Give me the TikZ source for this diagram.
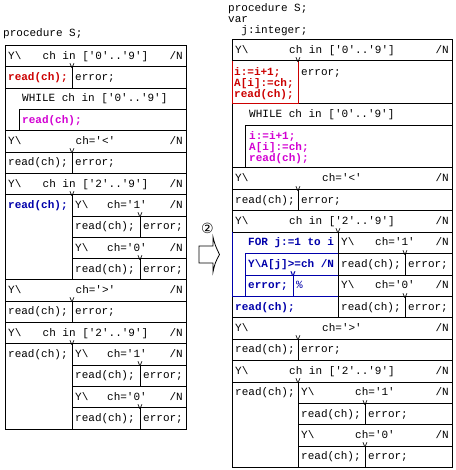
\documentclass[tikz,border=0pt]{standalone}
\usepackage{fontspec}
\setmonofont{Liberation Mono}
\newfontfamily\circfont{DejaVu Sans}
\usepackage{tikz}
\usetikzlibrary{calc}

\definecolor{redcode}{RGB}{204,0,0}
\definecolor{magcode}{RGB}{210,0,210}
\definecolor{bluecode}{RGB}{0,0,170}
\newcommand{\codefont}{\fontsize{11}{11.3}\selectfont\ttfamily}

\tikzset{
  txt/.style={font=\codefont, anchor=base west, inner sep=0pt},
  cnd/.style={font=\codefont, anchor=base, inner sep=0pt},
  nlab/.style={font=\codefont, anchor=base east, inner sep=0pt},
  vtip/.style={font=\fontsize{9}{9}\selectfont\ttfamily, anchor=base, inner sep=0pt},
  grid/.style={line width=0.8pt},
}

\begin{document}
\begin{tikzpicture}[x=1pt, y=-1pt]
    \useasboundingbox (0,0) rectangle (455,470);

    % left: before
    \node[txt] (lproc) at (3,37) {procedure S;};
    \draw[grid] (5,45.5) rectangle (186,428.9);
    \draw[grid] (5,66.8) -- (186,66.8) (5,88.1) -- (186,88.1) (19,109.4) -- (186,109.4)
        (5,130.7) -- (186,130.7) (5,152) -- (186,152) (5,173.3) -- (186,173.3)
        (5,194.6) -- (186,194.6) (72,215.9) -- (186,215.9) (72,237.2) -- (186,237.2)
        (72,258.5) -- (186,258.5) (5,279.8) -- (186,279.8) (5,301.1) -- (186,301.1)
        (5,322.4) -- (186,322.4) (5,343.7) -- (186,343.7) (72,365) -- (186,365)
        (72,386.3) -- (186,386.3) (72,407.6) -- (186,407.6);
    \draw[grid] (19,109.4) -- (19,130.7) (72,66.8) -- (72,88.1) (72,152) -- (72,173.3)
        (72,194.6) -- (72,279.8) (72,301.1) -- (72,322.4) (72,343.7) -- (72,428.9)
        (140,215.9) -- (140,237.2) (140,258.5) -- (140,279.8)
        (140,365) -- (140,386.3) (140,407.6) -- (140,428.9);

    \node[txt] (l0y) at (8,59.3) {Y\textbackslash};
    \node[cnd] (l0c) at (95.5,59.3) {ch in ['0'..'9']};
    \node[nlab] (l0n) at (183,59.3) {/N};
    \node[vtip] (l0v) at (72,68.6) {v};
    \node[txt, text=redcode, font=\codefont\bfseries] (l1a) at (8,80.6) {read(ch);};
    \node[txt] (l1b) at (75,80.6) {error;};
    \node[txt] (l2a) at (22,101.9) {WHILE ch in ['0'..'9']};
    \node[txt, text=magcode, font=\codefont\bfseries] (l3a) at (22,123.2) {read(ch);};
    \node[txt] (l4y) at (8,144.5) {Y\textbackslash};
    \node[cnd] (l4c) at (95.5,144.5) {ch='<'};
    \node[nlab] (l4n) at (183,144.5) {/N};
    \node[vtip] (l4v) at (72,153.8) {v};
    \node[txt] (l5a) at (8,165.8) {read(ch);};
    \node[txt] (l5b) at (75,165.8) {error;};
    \node[txt] (l6y) at (8,187.1) {Y\textbackslash};
    \node[cnd] (l6c) at (95.5,187.1) {ch in ['2'..'9']};
    \node[nlab] (l6n) at (183,187.1) {/N};
    \node[vtip] (l6v) at (72,196.4) {v};
    \node[txt, text=bluecode, font=\codefont\bfseries] (l7a) at (8,208.4) {read(ch);};
    \node[txt] (l7y) at (75,208.4) {Y\textbackslash};
    \node[cnd] (l7c) at (127,208.4) {ch='1'};
    \node[nlab] (l7n) at (183,208.4) {/N};
    \node[vtip] (l7v) at (140,217.7) {v};
    \node[txt] (l8a) at (75,229.7) {read(ch);};
    \node[txt] (l8b) at (143,229.7) {error;};
    \node[txt] (l9y) at (75,251) {Y\textbackslash};
    \node[cnd] (l9c) at (127,251) {ch='0'};
    \node[nlab] (l9n) at (183,251) {/N};
    \node[vtip] (l9v) at (140,260.3) {v};
    \node[txt] (l10a) at (75,272.3) {read(ch);};
    \node[txt] (l10b) at (143,272.3) {error;};
    \node[txt] (l11y) at (8,293.6) {Y\textbackslash};
    \node[cnd] (l11c) at (95.5,293.6) {ch='>'};
    \node[nlab] (l11n) at (183,293.6) {/N};
    \node[vtip] (l11v) at (72,302.9) {v};
    \node[txt] (l12a) at (8,314.9) {read(ch);};
    \node[txt] (l12b) at (75,314.9) {error;};
    \node[txt] (l13y) at (8,336.2) {Y\textbackslash};
    \node[cnd] (l13c) at (95.5,336.2) {ch in ['2'..'9']};
    \node[nlab] (l13n) at (183,336.2) {/N};
    \node[vtip] (l13v) at (72,345.5) {v};
    \node[txt] (l14a) at (8,357.5) {read(ch);};
    \node[txt] (l14y) at (75,357.5) {Y\textbackslash};
    \node[cnd] (l14c) at (127,357.5) {ch='1'};
    \node[nlab] (l14n) at (183,357.5) {/N};
    \node[vtip] (l14v) at (140,366.8) {v};
    \node[txt] (l15a) at (75,378.8) {read(ch);};
    \node[txt] (l15b) at (143,378.8) {error;};
    \node[txt] (l16y) at (75,400.1) {Y\textbackslash};
    \node[cnd] (l16c) at (127,400.1) {ch='0'};
    \node[nlab] (l16n) at (183,400.1) {/N};
    \node[vtip] (l16v) at (140,409.4) {v};
    \node[txt] (l17a) at (75,421.4) {read(ch);};
    \node[txt] (l17b) at (143,421.4) {error;};

    % arrow between
    \node[font=\circfont\fontsize{14}{14}\selectfont, inner sep=0pt] (step) at (207.5,228) {②};
    \draw[grid] (199,246) -- (213,246) -- (213,237) .. controls (215,245) .. (219.5,254.5)
        .. controls (215,263) .. (213,272) -- (213,263) -- (199,263) -- cycle;

    % right: after
    \node[txt] (rproc) at (228,11.5) {procedure S;};
    \node[txt] (rvar) at (228,22.5) {var};
    \node[txt] (rint) at (241.2,33.5) {j:integer;};
    \draw[grid] (232,39.5) rectangle (452,467.5);
    \draw[grid] (232,60.9) -- (452,60.9) (298,103.7) -- (452,103.7) (245,125.1) -- (452,125.1)
        (232,167.9) -- (452,167.9) (232,189.3) -- (452,189.3) (232,210.7) -- (452,210.7)
        (232,232.1) -- (452,232.1) (338,253.5) -- (452,253.5) (338,274.9) -- (452,274.9)
        (338,296.3) -- (452,296.3) (232,317.7) -- (452,317.7) (232,339.1) -- (452,339.1)
        (232,360.5) -- (452,360.5) (232,381.9) -- (452,381.9) (298,403.3) -- (452,403.3)
        (298,424.7) -- (452,424.7) (298,446.1) -- (452,446.1);
    \draw[grid] (245,125.1) -- (245,167.9) (298,189.3) -- (298,210.7) (338,232.1) -- (338,317.7)
        (405,253.5) -- (405,274.9) (405,296.3) -- (405,317.7) (298,339.1) -- (298,360.5)
        (298,381.9) -- (298,467.5) (365,403.3) -- (365,424.7) (365,446.1) -- (365,467.5);
    \draw[grid, redcode] (232,60.9) -- (232,103.7) -- (298,103.7) -- (298,60.9);
    \draw[grid, bluecode] (232,232.1) -- (232,296.3) -- (338,296.3)
        (245,253.5) -- (338,253.5) (245,274.9) -- (338,274.9)
        (245,253.5) -- (245,296.3) (293,274.9) -- (293,296.3);

    \node[txt] (r0y) at (235,53.3) {Y\textbackslash};
    \node[cnd] (r0c) at (342,53.3) {ch in ['0'..'9']};
    \node[nlab] (r0n) at (449,53.3) {/N};
    \node[vtip] (r0v) at (298,62.7) {v};
    \node[txt, text=redcode, font=\codefont\bfseries] (r1a) at (234,75.2) {i:=i+1;};
    \node[txt, text=redcode, font=\codefont\bfseries] (r1b) at (234,86.5) {A[i]:=ch;};
    \node[txt, text=redcode, font=\codefont\bfseries] (r1c) at (234,97.8) {read(ch);};
    \node[txt] (r1e) at (301,75.2) {error;};
    \node[txt] (r2a) at (249,117.5) {WHILE ch in ['0'..'9']};
    \node[txt, text=magcode, font=\codefont\bfseries] (r3a) at (249,139.3) {i:=i+1;};
    \node[txt, text=magcode, font=\codefont\bfseries] (r3b) at (249,150.6) {A[i]:=ch;};
    \node[txt, text=magcode, font=\codefont\bfseries] (r3c) at (249,161.9) {read(ch);};
    \node[txt] (r4y) at (235,181.7) {Y\textbackslash};
    \node[cnd] (r4c) at (342,181.7) {ch='<'};
    \node[nlab] (r4n) at (449,181.7) {/N};
    \node[vtip] (r4v) at (298,191.1) {v};
    \node[txt] (r5a) at (235,203.1) {read(ch);};
    \node[txt] (r5b) at (301,203.1) {error;};
    \node[txt] (r6y) at (235,224.5) {Y\textbackslash};
    \node[cnd] (r6c) at (342,224.5) {ch in ['2'..'9']};
    \node[nlab] (r6n) at (449,224.5) {/N};
    \node[vtip] (r6v) at (338,233.9) {v};
    \node[txt, text=bluecode, font=\codefont\bfseries] (r7a) at (248,245.9) {FOR j:=1 to i};
    \node[txt] (r7y) at (341,245.9) {Y\textbackslash};
    \node[cnd] (r7c) at (395,245.9) {ch='1'};
    \node[nlab] (r7n) at (449,245.9) {/N};
    \node[vtip] (r7v) at (405,255.3) {v};
    \node[txt, text=bluecode, font=\codefont\bfseries] (r8a) at (248,267.3) {Y\textbackslash A[j]>=ch /N};
    \node[vtip, text=bluecode, font=\fontsize{9}{9}\selectfont\ttfamily\bfseries] (r8v) at (293,276.7) {v};
    \node[txt] (r8b) at (341,267.3) {read(ch);};
    \node[txt] (r8c) at (408,267.3) {error;};
    \node[txt, text=bluecode, font=\codefont\bfseries] (r9a) at (248,288.7) {error;};
    \node[txt, text=bluecode] (r9b) at (296,288.7) {\%};
    \node[txt] (r9y) at (341,288.7) {Y\textbackslash};
    \node[cnd] (r9c) at (395,288.7) {ch='0'};
    \node[nlab] (r9n) at (449,288.7) {/N};
    \node[vtip] (r9v) at (405,298.1) {v};
    \node[txt, text=bluecode, font=\codefont\bfseries] (r10a) at (235,310.1) {read(ch);};
    \node[txt] (r10b) at (341,310.1) {read(ch);};
    \node[txt] (r10c) at (408,310.1) {error;};
    \node[txt] (r11y) at (235,331.5) {Y\textbackslash};
    \node[cnd] (r11c) at (342,331.5) {ch='>'};
    \node[nlab] (r11n) at (449,331.5) {/N};
    \node[vtip] (r11v) at (298,340.9) {v};
    \node[txt] (r12a) at (235,352.9) {read(ch);};
    \node[txt] (r12b) at (301,352.9) {error;};
    \node[txt] (r13y) at (235,374.3) {Y\textbackslash};
    \node[cnd] (r13c) at (342,374.3) {ch in ['2'..'9']};
    \node[nlab] (r13n) at (449,374.3) {/N};
    \node[vtip] (r13v) at (298,383.7) {v};
    \node[txt] (r14a) at (235,395.7) {read(ch);};
    \node[txt] (r14y) at (301,395.7) {Y\textbackslash};
    \node[cnd] (r14c) at (375,395.7) {ch='1'};
    \node[nlab] (r14n) at (449,395.7) {/N};
    \node[vtip] (r14v) at (365,405.1) {v};
    \node[txt] (r15a) at (301,417.1) {read(ch);};
    \node[txt] (r15b) at (368,417.1) {error;};
    \node[txt] (r16y) at (301,438.5) {Y\textbackslash};
    \node[cnd] (r16c) at (375,438.5) {ch='0'};
    \node[nlab] (r16n) at (449,438.5) {/N};
    \node[vtip] (r16v) at (365,447.9) {v};
    \node[txt] (r17a) at (301,459.9) {read(ch);};
    \node[txt] (r17b) at (368,459.9) {error;};
\end{tikzpicture}
\end{document}
